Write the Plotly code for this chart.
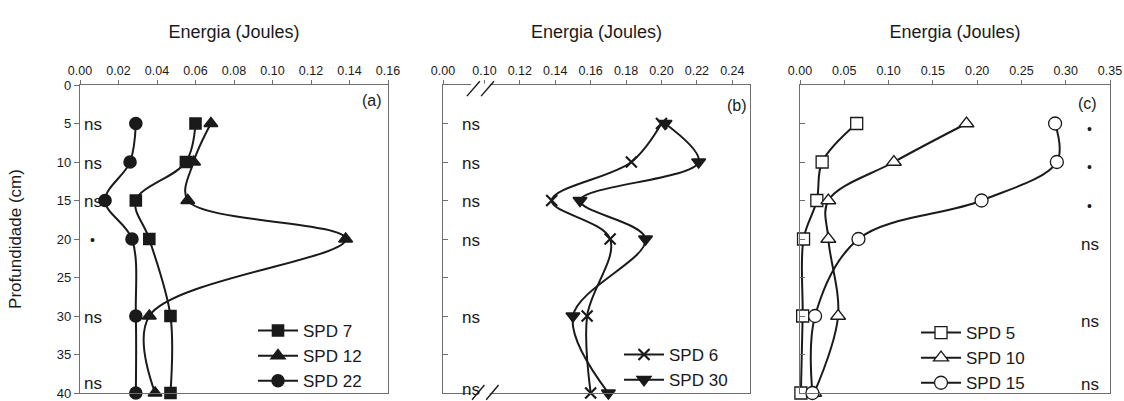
import plotly.graph_objects as go

# Soil depth (cm) at which energy was measured
depths = [5, 10, 15, 20, 30, 40]

# Panel (a): energy (J) per treatment
spd7 = [0.060, 0.055, 0.029, 0.036, 0.047, 0.047]
spd12 = [0.068, 0.059, 0.056, 0.138, 0.036, 0.039]
spd22 = [0.029, 0.026, 0.013, 0.027, 0.029, 0.029]

# Panel (b)
spd6 = [0.200, 0.183, 0.138, 0.171, 0.158, 0.160]
spd30 = [0.202, 0.221, 0.154, 0.191, 0.150, 0.170]

# Panel (c)
spd5 = [0.064, 0.025, 0.019, 0.004, 0.003, 0.001]
spd10 = [0.188, 0.106, 0.032, 0.032, 0.043, 0.016]
spd15 = [0.288, 0.290, 0.205, 0.066, 0.017, 0.014]

# Significance labels per depth
sig_a = ["ns", "ns", "ns", "•", "ns", "ns"]
sig_b = ["ns", "ns", "ns", "ns", "ns", "ns"]
sig_c = ["•", "•", "•", "ns", "ns", "ns"]

# Tick labels
ticks_a = [0.00, 0.02, 0.04, 0.06, 0.08, 0.10, 0.12, 0.14, 0.16]
ticks_b = [0.10, 0.12, 0.14, 0.16, 0.18, 0.20, 0.22, 0.24]
ticks_c = [0.00, 0.05, 0.10, 0.15, 0.20, 0.25, 0.30, 0.35]
depth_ticks = [0, 5, 10, 15, 20, 25, 30, 35, 40]

W, H = 1124, 401
FONT = "Liberation Sans, Arial, sans-serif"
INK = "#1a1a1a"
FRAME = "#6e6e6e"

# panel boxes in pixels (left, right); shared top/bottom
box_a = (80, 388)
box_b = (443, 750)
box_c = (800, 1110)
top_px, bot_px = 85, 393

def xdom(box):
    return [box[0] / W, box[1] / W]

ydom = [1 - bot_px / H, 1 - top_px / H]

# Broken axis in panel (b): left edge stands for 0.00
b_left = 0.0766
b_right = 0.25

fig = go.Figure()

def add_series(x, name, xa, ya, legend, symbol, fill, size=11, lw=1.6):
    fig.add_trace(go.Scatter(
        x=x, y=depths, name=name, xaxis=xa, yaxis=ya, legend=legend,
        mode="lines+markers",
        line=dict(color=INK, width=2, shape="spline", smoothing=1.0),
        marker=dict(symbol=symbol, size=size, color=fill,
                    line=dict(color=INK, width=lw)),
        cliponaxis=False,
    ))

add_series(spd7, "SPD 7", "x", "y", "legend", "square", INK, 11)
add_series(spd12, "SPD 12", "x", "y", "legend", "triangle-up", INK, 12)
add_series(spd22, "SPD 22", "x", "y", "legend", "circle", INK, 12)

add_series(spd6, "SPD 6", "x2", "y2", "legend2", "x-thin-open", INK, 11, 2.2)
add_series(spd30, "SPD 30", "x2", "y2", "legend2", "triangle-down", INK, 12)

add_series(spd5, "SPD 5", "x3", "y3", "legend3", "square", "white", 12, 1.3)
add_series(spd10, "SPD 10", "x3", "y3", "legend3", "triangle-up", "white", 13, 1.3)
add_series(spd15, "SPD 15", "x3", "y3", "legend3", "circle", "white", 13, 1.3)

common_x = dict(
    side="top", showline=True, mirror=True, linecolor=FRAME, linewidth=1.2,
    ticks="outside", ticklen=4, tickcolor=FRAME, showgrid=False, zeroline=False,
    automargin=False,
    tickfont=dict(family=FONT, size=12.5, color=INK),
    title=dict(text="Energia (Joules)", font=dict(family=FONT, size=18, color=INK), standoff=20),
)
common_y = dict(
    range=[40, 0], showline=True, mirror=True, linecolor=FRAME, linewidth=1.2,
    showgrid=False, zeroline=False, tickvals=depth_ticks, automargin=False,
    tickfont=dict(family=FONT, size=13, color=INK),
)

fig.update_layout(
    width=W, height=H, margin=dict(l=0, r=0, t=0, b=0),
    paper_bgcolor="white", plot_bgcolor="white", showlegend=True,
    xaxis=dict(common_x, domain=xdom(box_a), anchor="y", range=[0, 0.16],
               tickvals=ticks_a, ticktext=[f"{v:.2f}" for v in ticks_a]),
    yaxis=dict(common_y, domain=ydom, anchor="x", ticks="outside", ticklen=5,
               tickcolor=FRAME,
               title=dict(text="Profundidade (cm)", standoff=30,
                          font=dict(family=FONT, size=17, color=INK))),
    xaxis2=dict(common_x, domain=xdom(box_b), anchor="y2", range=[b_left, b_right],
                tickvals=[b_left] + ticks_b,
                ticktext=["0.00"] + [f"{v:.2f}" for v in ticks_b]),
    yaxis2=dict(common_y, domain=ydom, anchor="x2", ticks="inside", ticklen=5,
                tickcolor=FRAME, showticklabels=False),
    xaxis3=dict(common_x, domain=xdom(box_c), anchor="y3", range=[0, 0.35],
                tickvals=ticks_c, ticktext=[f"{v:.2f}" for v in ticks_c]),
    yaxis3=dict(common_y, domain=ydom, anchor="x3", ticks="inside", ticklen=5,
                tickcolor=FRAME, showticklabels=False),
)

# legends sized so that they stay inside the figure (no margin push)
leg_font = dict(family=FONT, size=17, color=INK)
fig.update_layout(
    legend=dict(x=253 / W, y=1 - 313 / H, xanchor="left", yanchor="top",
                bgcolor="rgba(0,0,0,0)", font=leg_font, itemwidth=40, tracegroupgap=0),
    legend2=dict(x=619 / W, y=1 - 337 / H, xanchor="left", yanchor="top",
                 bgcolor="rgba(0,0,0,0)", font=leg_font, itemwidth=40),
    legend3=dict(x=916 / W, y=1 - 315 / H, xanchor="left", yanchor="top",
                 bgcolor="rgba(0,0,0,0)", font=leg_font, itemwidth=40),
)

# significance markers beside each depth; the deepest label is lifted
# so it sits just inside the bottom frame
def add_sig(labels, xref, xfrac, yref, shift=0, bottom_lift=10):
    for d, s in zip(depths, labels):
        dy = -1 + shift + (bottom_lift if d == depths[-1] else 0)
        fig.add_annotation(
            x=xfrac, y=d, xref=xref, yref=yref, text=s, showarrow=False,
            xanchor="center", yanchor="middle",
            font=dict(family=FONT, size=17 if s == "ns" else 14, color=INK),
            yshift=dy,
        )

add_sig(sig_a, "x domain", 0.042, "y", 0, 11)
add_sig(sig_b, "x2 domain", 0.09, "y2", 0, 5)
add_sig(sig_c, "x3 domain", 0.935, "y3", -4, 14)

# panel letters
for ref, lbl, xf, yf in [("x", "(a)", 0.948, 0.951), ("x2", "(b)", 0.958, 0.935),
                         ("x3", "(c)", 0.926, 0.94)]:
    fig.add_annotation(x=xf, y=yf, xref=f"{ref} domain", yref=f"{ref.replace('x', 'y')} domain",
                       text=lbl, showarrow=False, xanchor="center", yanchor="middle",
                       font=dict(family=FONT, size=16, color=INK))

# axis-break marks on panel (b)
def brk(x0, x1, y0, y1):
    for dx in (0.0, 0.0080):
        fig.add_shape(type="line", xref="x2", yref="y2 domain",
                      x0=x0 + dx, x1=x1 + dx, y0=y0, y1=y1,
                      line=dict(color=INK, width=1.4))

for yd in (1.0, 0.0):
    fig.add_shape(type="line", xref="x2", yref="y2 domain",
                  x0=0.0925, x1=0.1030, y0=yd, y1=yd,
                  line=dict(color="white", width=3))
brk(0.0901, 0.0974, 0.964, 1.012)
brk(0.0930, 0.1000, -0.022, 0.026)

fig.write_html("out.html")
